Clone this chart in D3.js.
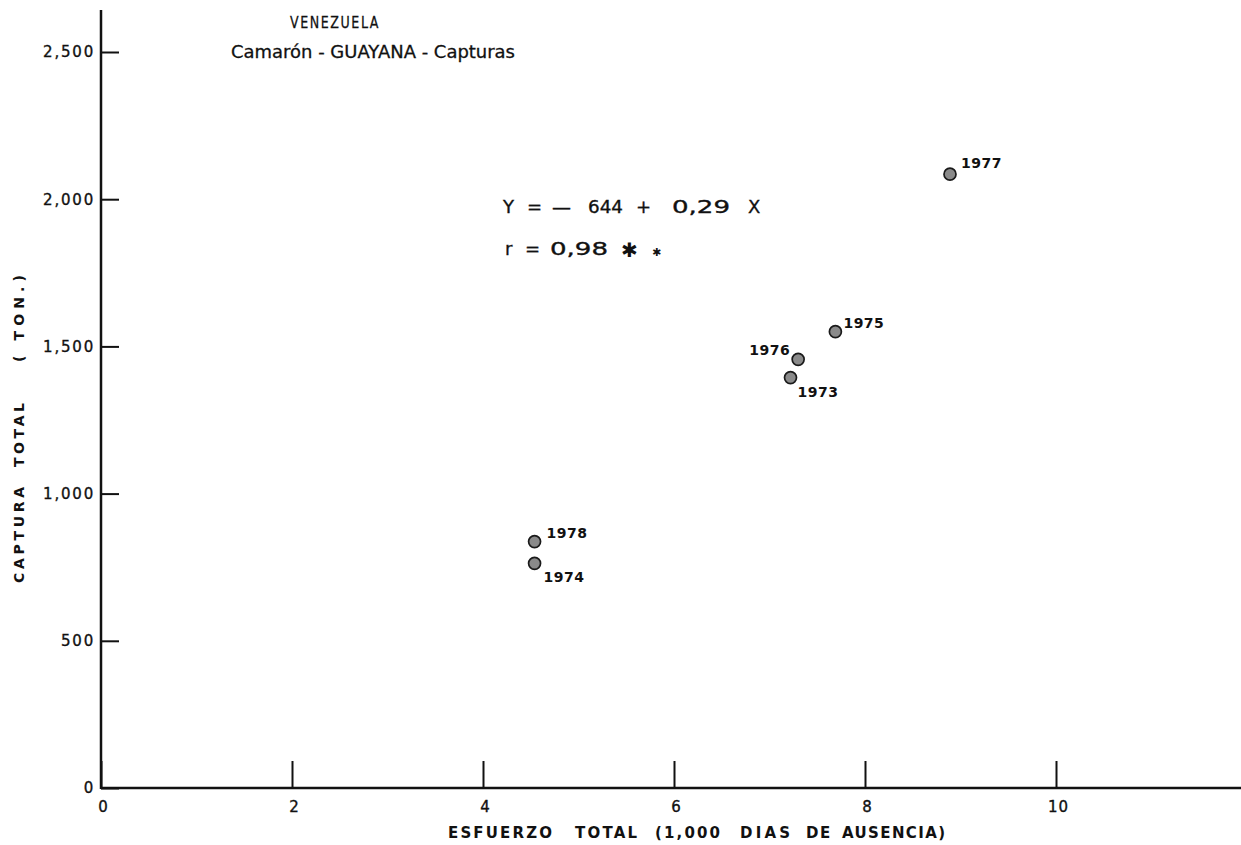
<!DOCTYPE html>
<html>
<head>
<meta charset="utf-8">
<script src="https://cdn.jsdelivr.net/npm/d3@7"></script>
<style>
  html, body { margin: 0; padding: 0; background: #fff; }
  svg { display: block; }
  text { font-family: "DejaVu Sans", "Liberation Sans", sans-serif; fill: #111; }
</style>
</head>
<body>
<svg id="chart" width="1241" height="845"></svg>
<script>
// ---- data ----
const years   = ["1973", "1974", "1975", "1976", "1977", "1978"];
const effort  = [7.22, 4.54, 7.69, 7.30, 8.89, 4.54];   // 1,000 dias de ausencia
const catches = [1394, 763, 1550, 1456, 2085, 837];      // toneladas
const xTicks  = [0, 2, 4, 6, 8, 10];
const yTicks  = [0, 500, 1000, 1500, 2000, 2500];
const titleLines = ["VENEZUELA", "Camarón - GUAYANA - Capturas"];
const xTitleWords = ["ESFUERZO", "TOTAL", "(1,000", "DIAS", "DE", "AUSENCIA)"];
const yTitleWords = ["CAPTURA", "TOTAL", "( TON.)"];
const eqTokens = ["Y", "=", "—", "644", "+", "0,29", "X"];
const corrTokens = ["r", "=", "0,98"];

// ---- layout ----
const labelPlace = {
  "1973": [7, 19, "start"],
  "1974": [9, 19, "start"],
  "1975": [8, -4, "start"],
  "1976": [-8, -4, "end"],
  "1977": [11, -6, "start"],
  "1978": [12, -4, "start"]
};
const xTitleX   = [448, 575, 655, 740, 806, 842];
const xTitleLen = [104, 62, 65, 50, null, 103];
const yTitlePos = [583, 467, 362];   // bottom end of each rotated word
const yTitleLen = [96, 64, 87];
const eqX   = [503, 527, 552, 588, 636, 672, 748];
const eqLen = [null, null, 19, 35, null, 58, null];
const corrX   = [505, 525, 550];
const corrLen = [null, null, 58];

const svg = d3.select("#chart");
const x = d3.scaleLinear().domain([0, 10]).range([101, 1056]);
const y = d3.scaleLinear().domain([0, 2500]).range([788, 52]);
const ink = "#111";

// axis lines
svg.append("line").attr("x1", x(0)).attr("x2", 1241)
  .attr("y1", y(0)).attr("y2", y(0))
  .attr("stroke", ink).attr("stroke-width", 2.5);
svg.append("line").attr("x1", x(0)).attr("x2", x(0))
  .attr("y1", 10).attr("y2", y(0) + 1)
  .attr("stroke", ink).attr("stroke-width", 2.5);

function styleTickText(sel, size) {
  sel.style("font-size", size + "px")
    .style("font-family", '"DejaVu Sans", sans-serif')
    .attr("fill", ink).attr("stroke", ink).attr("stroke-width", 0.35);
}

// y axis
const gy = svg.append("g").attr("transform", `translate(${x(0)},0)`)
  .call(d3.axisLeft(y).tickValues(yTicks).tickSize(-18).tickPadding(6)
    .tickFormat(d3.format(",")));
gy.select(".domain").remove();
gy.attr("font-family", null).attr("font-size", null);
gy.selectAll(".tick line").attr("stroke", ink).attr("stroke-width", 2);
styleTickText(gy.selectAll(".tick text").attr("letter-spacing", "1.8px"), 15);

// x axis
const gx = svg.append("g").attr("transform", `translate(0,${y(0)})`)
  .call(d3.axisBottom(x).tickValues(xTicks).tickSize(-27).tickPadding(13)
    .tickFormat(d3.format("d")));
gx.select(".domain").remove();
gx.attr("font-family", null).attr("font-size", null);
gx.selectAll(".tick line").attr("stroke", ink).attr("stroke-width", 2);
styleTickText(gx.selectAll(".tick text").attr("dx", 2).attr("letter-spacing", "1px"), 15);

// axis titles
svg.append("g").selectAll("text").data(xTitleWords).join("text")
  .attr("x", (d, i) => xTitleX[i]).attr("y", 838)
  .attr("textLength", (d, i) => xTitleLen[i])
  .attr("lengthAdjust", (d, i) => xTitleLen[i] ? "spacing" : null)
  .attr("letter-spacing", (d, i) => xTitleLen[i] ? null : "1.5px")
  .style("font-size", "15px").style("font-weight", "bold")
  .text(d => d);
svg.append("g").selectAll("text").data(yTitleWords).join("text")
  .attr("transform", (d, i) => `translate(24,${yTitlePos[i]}) rotate(-90)`)
  .attr("textLength", (d, i) => yTitleLen[i]).attr("lengthAdjust", "spacing")
  .style("white-space", "pre").style("font-size", "14px").style("font-weight", "bold")
  .text(d => d);

// chart title
svg.append("text").attr("x", 290).attr("y", 28)
  .attr("textLength", 90).attr("lengthAdjust", "spacingAndGlyphs")
  .attr("letter-spacing", "2px")
  .attr("stroke", ink).attr("stroke-width", 0.3)
  .style("font-size", "16px").text(titleLines[0]);
svg.append("text").attr("x", 231).attr("y", 58)
  .attr("textLength", 284).attr("lengthAdjust", "spacingAndGlyphs")
  .attr("stroke", ink).attr("stroke-width", 0.3)
  .style("font-size", "17px").text(titleLines[1]);

// regression annotation
function tokens(data, xs, lens, yy) {
  svg.append("g").selectAll("text").data(data).join("text")
    .attr("x", (d, i) => xs[i]).attr("y", yy)
    .attr("textLength", (d, i) => lens[i])
    .attr("lengthAdjust", (d, i) => lens[i] ? "spacingAndGlyphs" : null)
    .attr("stroke", ink).attr("stroke-width", 0.35)
    .style("font-size", "18px").text(d => d);
}
tokens(eqTokens, eqX, eqLen, 213);
tokens(corrTokens, corrX, corrLen, 255);
svg.append("text").attr("x", 621).attr("y", 257).style("font-size", "20px")
  .attr("fill", "#555").text("✱");
svg.append("text").attr("x", 652).attr("y", 256).style("font-size", "11px")
  .attr("fill", "#555").text("✱");

// points
const pts = years.map((yr, i) => ({ yr, ex: effort[i], c: catches[i] }));
svg.append("g").selectAll("circle").data(pts).join("circle")
  .attr("cx", d => x(d.ex)).attr("cy", d => y(d.c)).attr("r", 6)
  .attr("fill", "#8a8a8a").attr("stroke", "#1a1a1a").attr("stroke-width", 1.7);

svg.append("g").selectAll("text").data(pts).join("text")
  .attr("x", d => x(d.ex) + labelPlace[d.yr][0])
  .attr("y", d => y(d.c) + labelPlace[d.yr][1])
  .attr("text-anchor", d => labelPlace[d.yr][2])
  .attr("letter-spacing", "0.5px")
  .style("font-size", "14px").style("font-weight", "bold")
  .text(d => d.yr);
</script>
</body>
</html>
